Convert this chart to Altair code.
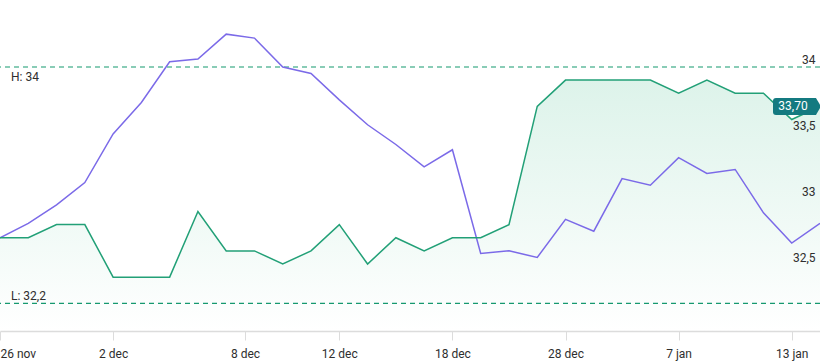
import altair as alt
import pandas as pd

# ---- data ----
idx = list(range(30))
stock = [32.70, 32.70, 32.80, 32.80, 32.40, 32.40, 32.40, 32.90, 32.60, 32.60,
         32.50, 32.60, 32.80, 32.50, 32.70, 32.60, 32.70, 32.70, 32.80, 33.70,
         33.90, 33.90, 33.90, 33.90, 33.80, 33.90, 33.80, 33.80, 33.60, 33.70]
compare = [32.70, 32.81, 32.95, 33.12, 33.49, 33.73, 34.04, 34.06, 34.25, 34.22,
           34.00, 33.95, 33.75, 33.56, 33.41, 33.24, 33.37, 32.58, 32.60, 32.55,
           32.84, 32.75, 33.15, 33.10, 33.31, 33.19, 33.22, 32.89, 32.66, 32.81]

x_tick_pos = [0, 4, 8.667, 12, 16, 20, 24, 28]
x_tick_labels = ["26 nov", "2 dec", "8 dec", "12 dec", "18 dec", "28 dec", "7 jan", "13 jan"]
y_ticks = [34, 33.5, 33, 32.5]
y_min, y_max = 31.99, 34.51

hl_values = [34, 32.2]
hl_labels = ["H: 34", "L: 32,2"]
last_value = [33.70]
last_label = ["33,70"]

# ---- styling ----
GREEN = "#22a077"
DASH = "#15996f"
PURPLE = "#7b6ae8"
BADGE = "#147a80"
TEXT = "#2e2e2e"
FONT = "Roboto"

df = pd.DataFrame({"i": idx, "stock": stock, "compare": compare})
hl_df = pd.DataFrame({"v": hl_values, "label": hl_labels})
last_df = pd.DataFrame({"i": [idx[-1]], "v": last_value, "label": last_label})

label_expr = ("[" + ",".join(f"'{l}'" for l in x_tick_labels) + "][indexof(["
              + ",".join(str(p) for p in x_tick_pos) + "], datum.value)]")

x_scale = alt.Scale(domain=[0, 29], nice=False, zero=False)
y_scale = alt.Scale(domain=[y_min, y_max], nice=False, zero=False)

x_axis = alt.Axis(values=x_tick_pos, labelExpr=label_expr, title=None, grid=False,
                  domainColor="#dcdcdc", domainWidth=1.5, tickColor="#dcdcdc",
                  tickSize=9, labelPadding=8, labelFontSize=12, labelColor=TEXT,
                  labelFont=FONT, zindex=1)
y_axis = alt.Axis(orient="right", values=y_ticks, title=None, grid=False, domain=False,
                  ticks=False, labelAlign="right", labelPadding=-5,
                  labelBaseline="alphabetic", labelOffset=-3,
                  labelExpr="replace(toString(datum.value), '.', ',')",
                  labelFontSize=12, labelColor=TEXT, labelFont=FONT, zindex=1)


def X(field):
    return alt.X(field, scale=x_scale, axis=x_axis)


def Y(field):
    return alt.Y(field, scale=y_scale, axis=y_axis)


base = alt.Chart(df)

area = base.mark_area(
    fill=alt.Gradient(
        gradient="linear",
        stops=[alt.GradientStop(color="#ddf3ea", offset=0),
               alt.GradientStop(color="#ffffff", offset=1)],
        x1=1, x2=1, y1=0, y2=1),
    line=False,
).encode(
    x=X("i:Q"),
    y=Y("stock:Q"),
    y2=alt.datum(y_min),
)

purple_line = base.mark_line(color=PURPLE, strokeWidth=1.5).encode(
    x=X("i:Q"),
    y=Y("compare:Q"),
)

green_line = base.mark_line(color=GREEN, strokeWidth=1.5).encode(
    x=X("i:Q"),
    y=Y("stock:Q"),
)

hl_rules = alt.Chart(hl_df).mark_rule(color=DASH, strokeWidth=1.2, strokeDash=[5, 4]).encode(
    y=Y("v:Q"),
)

h_text = alt.Chart(hl_df.iloc[[0]]).mark_text(
    align="left", baseline="top", dy=5, fontSize=12, font=FONT, color=TEXT
).encode(
    x=alt.value(11),
    y=Y("v:Q"),
    text="label:N",
)

l_text = alt.Chart(hl_df.iloc[[1]]).mark_text(
    align="left", baseline="alphabetic", dy=-3, fontSize=12, font=FONT, color=TEXT
).encode(
    x=alt.value(11),
    y=Y("v:Q"),
    text="label:N",
)

badge_path = ("M -0.875 -0.354 L 0.79 -0.354 L 1 0 L 0.79 0.354 L -0.875 0.354 "
              "Q -1 0.354 -1 0.229 L -1 -0.229 Q -1 -0.354 -0.875 -0.354 Z")

badge = alt.Chart(last_df).mark_point(
    shape=badge_path, size=2304, filled=True, fill=BADGE, fillOpacity=1,
    strokeWidth=0, opacity=1, xOffset=-23
).encode(
    x=X("i:Q"),
    y=Y("v:Q"),
)

badge_text = alt.Chart(last_df).mark_text(
    align="center", baseline="middle", dx=-27, fontSize=12, font=FONT, color="#ffffff"
).encode(
    x=X("i:Q"),
    y=Y("v:Q"),
    text="label:N",
)

chart = alt.layer(
    area, hl_rules, purple_line, green_line, h_text, l_text, badge, badge_text
).properties(
    width=820, height=331,
    autosize=alt.AutoSizeParams(type="none"),
    padding={"left": 0, "top": 0, "right": 0, "bottom": 30},
).configure_view(strokeWidth=0, strokeOpacity=0)

chart.save("out.html", embed_options={"renderer": "svg", "actions": False})
